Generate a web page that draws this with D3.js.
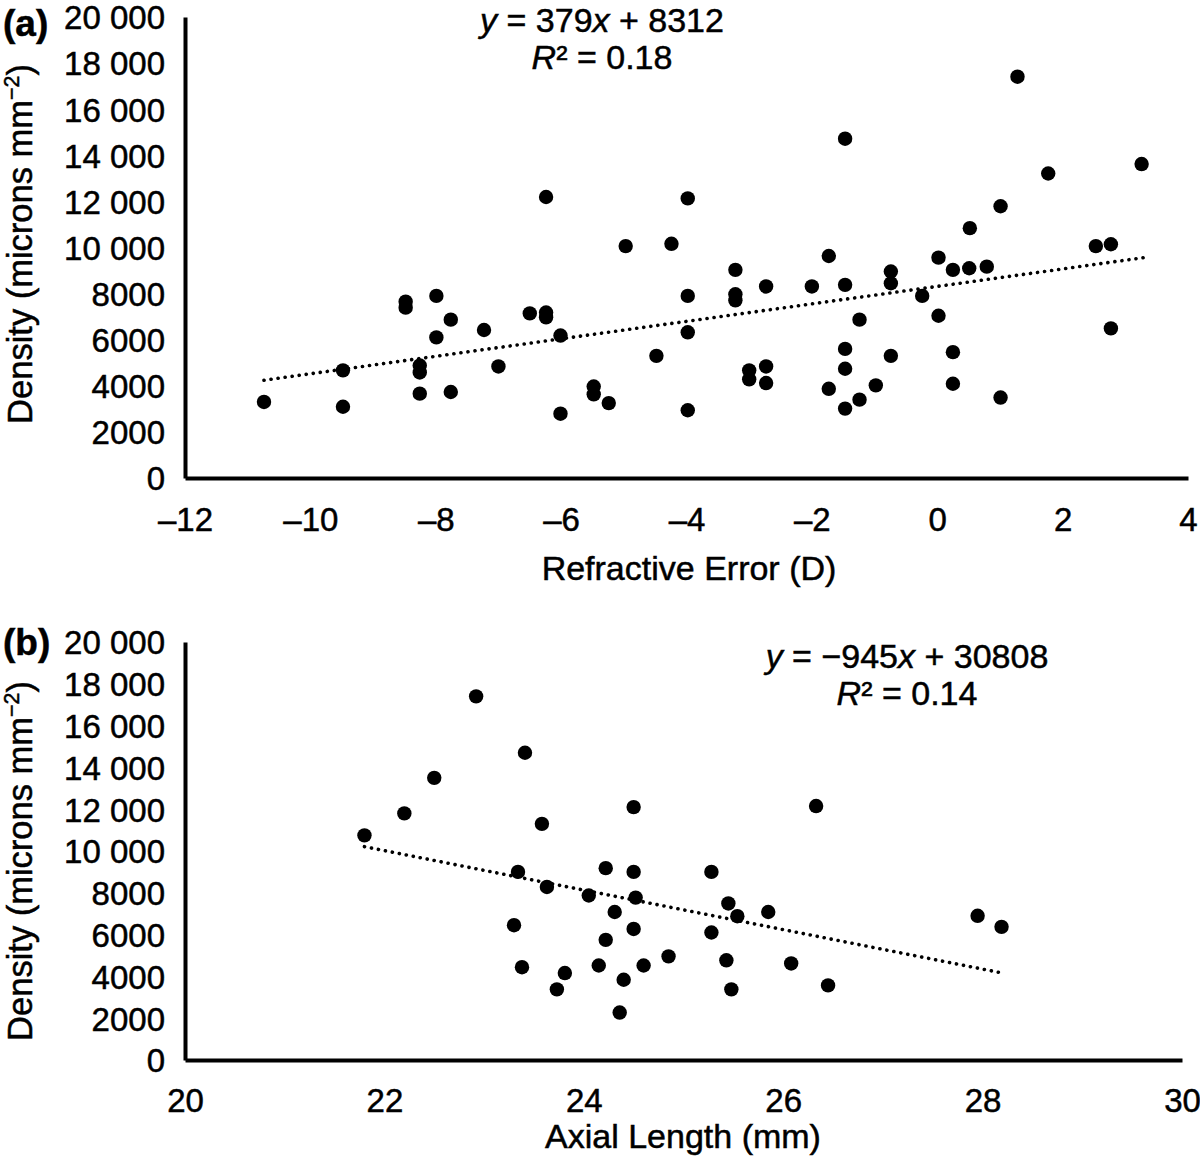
<!DOCTYPE html>
<html>
<head>
<meta charset="utf-8">
<script src="https://cdn.jsdelivr.net/npm/d3@7"></script>
<style>
  html, body { margin: 0; padding: 0; background: #fff; }
  svg { display: block; }
  text { font-family: "Liberation Sans", Arial, sans-serif; fill: #000; stroke: #000; stroke-width: 0.5px; }
</style>
</head>
<body>
<svg id="chart" width="1200" height="1160"></svg>
<script>
// ---------- Data ----------
// Panel (a): refractive error (D) vs density (microns mm^-2)
const refractiveError = [
  -10.74, -9.48, -9.48, -8.48, -8.48, -8.255, -8.255, -8.255, -7.99, -7.99,
  -7.76, -7.76, -7.23, -7.0, -6.5, -6.24, -6.24, -6.24, -6.01, -6.01,
  -5.48, -5.48, -5.24, -4.97, -4.48, -4.24, -3.98, -3.98, -3.98, -3.98,
  -3.22, -3.22, -3.22, -3.0, -3.0, -2.73, -2.73, -2.73, -2.0, -1.73,
  -1.73, -1.47, -1.47, -1.47, -1.47, -1.47, -1.24, -1.24, -0.98, -0.74,
  -0.74, -0.74, -0.24, 0.02, 0.02, 0.25, 0.25, 0.25, 0.52, 0.51,
  0.79, 1.01, 1.01, 1.28, 1.77, 2.53, 2.77, 2.77, 3.26
];
const densityA = [
  3300, 3090, 4670, 7650, 7390, 4880, 4580, 3660, 7900, 6100,
  6870, 3730, 6420, 4840, 7140, 7180, 6970, 12190, 6180, 2790,
  3970, 3630, 3250, 10060, 5300, 10160, 12130, 7900, 6320, 2940,
  9030, 7970, 7710, 4670, 4280, 8310, 4840, 4120, 8310, 9630,
  3870, 8380, 5600, 4740, 3010, 14720, 6870, 3400, 4020, 8960,
  8450, 5300, 7900, 9560, 7040, 9030, 5460, 4090, 10840, 9100,
  9170, 11790, 3490, 17410, 13210, 10060, 10140, 6490, 13620
];
// Panel (b): axial length (mm) vs density
const axialLength = [
  21.8, 22.2, 22.5, 22.92, 23.41, 23.58, 23.34, 23.63, 23.3, 23.38,
  23.73, 23.81, 24.05, 24.22, 24.31, 24.22, 24.15, 24.36, 24.4, 24.5,
  24.5, 24.52, 24.5, 24.6, 24.85, 25.28, 25.28, 25.45, 25.43, 25.54,
  25.48, 25.85, 26.08, 26.33, 26.45, 27.95, 28.19
];
const densityB = [
  10750, 11800, 13500, 17400, 14700, 11300, 9000, 8280, 6450, 4440,
  3380, 4160, 7870, 9180, 7080, 5750, 4520, 2270, 3840, 9000,
  12100, 7770, 6270, 4520, 4960, 9000, 6100, 7490, 4770, 6880,
  3380, 7080, 4620, 12150, 3570, 6900, 6370
];
// Trend lines (from the chart's equations)
const trendA = { slope: 379, intercept: 8312, from: -10.74, to: 3.3 };
const trendB = { slope: -945, intercept: 30808, from: 21.8, to: 28.2 };

// Tick values and labels
const yTicks = [0, 2000, 4000, 6000, 8000, 10000, 12000, 14000, 16000, 18000, 20000];
const yTickLabels = ["0", "2000", "4000", "6000", "8000", "10 000", "12 000", "14 000", "16 000", "18 000", "20 000"];
const xTicksA = [-12, -10, -8, -6, -4, -2, 0, 2, 4];
const xTickLabelsA = ["\u201312", "\u201310", "\u20138", "\u20136", "\u20134", "\u20132", "0", "2", "4"];
const xTicksB = [20, 22, 24, 26, 28, 30];
const xTickLabelsB = ["20", "22", "24", "26", "28", "30"];

// ---------- Drawing ----------
const svg = d3.select("#chart");
const FS = 33;

function panel(cfg) {
  const g = svg.append("g");
  const x = d3.scaleLinear().domain(cfg.xDomain).range(cfg.xRange);
  const y = d3.scaleLinear().domain([0, 20000]).range(cfg.yRange);

  // axes (no tick marks)
  const xAxis = d3.axisBottom(x).tickValues(cfg.xTicks)
    .tickFormat((d, i) => cfg.xTickLabels[i]).tickSize(0).tickPadding(0);
  const yAxis = d3.axisLeft(y).tickValues(yTicks)
    .tickFormat((d, i) => yTickLabels[i]).tickSize(0).tickPadding(0);

  const gx = g.append("g").attr("transform", `translate(0,${cfg.yRange[0]})`).call(xAxis);
  gx.select(".domain").attr("stroke", "#000").attr("stroke-width", 4);
  gx.selectAll("text").attr("font-size", FS).attr("font-family", "Liberation Sans, Arial, sans-serif")
    .attr("fill", "#000").attr("dy", null).attr("y", cfg.xTickDy);

  const gy = g.append("g").attr("transform", `translate(${cfg.xRange[0]},0)`).call(yAxis);
  gy.select(".domain").attr("stroke", "#000").attr("stroke-width", 4);
  gy.selectAll("text").attr("font-size", FS).attr("font-family", "Liberation Sans, Arial, sans-serif")
    .attr("fill", "#000").attr("x", -20).attr("dy", "0.36em");

  // trend line (dotted)
  const t = cfg.trend;
  const line = d3.line().x(d => x(d)).y(d => y(t.slope * d + t.intercept));
  g.append("path")
    .attr("d", line([t.from, t.to]))
    .attr("fill", "none").attr("stroke", "#000").attr("stroke-width", 3.6)
    .attr("stroke-linecap", "round").attr("stroke-dasharray", "0.1 7");

  // points
  g.append("g").selectAll("circle")
    .data(cfg.xs.map((v, i) => [v, cfg.ys[i]]))
    .join("circle")
    .attr("cx", d => x(d[0])).attr("cy", d => y(d[1])).attr("r", 7.2)
    .attr("fill", "#000");

  // x-axis title
  g.append("text").attr("x", cfg.xTitlePos[0]).attr("y", cfg.xTitlePos[1])
    .attr("text-anchor", "middle").attr("font-size", 34).text(cfg.xTitle);

  // y-axis title
  const YF = 34.5;
  const yt = g.append("text")
    .attr("transform", `translate(${cfg.yTitlePos[0]},${cfg.yTitlePos[1]}) rotate(-90)`)
    .attr("text-anchor", "middle").attr("font-size", YF);
  yt.append("tspan").text("Density (microns mm");
  yt.append("tspan").attr("font-size", YF * 0.62).attr("dy", -13).text("\u22122");
  yt.append("tspan").attr("dy", 13).text(")");

  // panel letter
  g.append("text").attr("x", 3).attr("y", cfg.letterY)
    .attr("font-size", 37).attr("font-weight", "bold").text(cfg.letter);

  // equation
  const e1 = g.append("text").attr("x", cfg.eqPos[0]).attr("y", cfg.eqPos[1])
    .attr("text-anchor", "middle").attr("font-size", 34);
  e1.append("tspan").attr("font-style", "italic").text("y");
  e1.append("tspan").text(cfg.eqMid);
  e1.append("tspan").attr("font-style", "italic").text("x");
  e1.append("tspan").text(cfg.eqEnd);
  const e2 = g.append("text").attr("x", cfg.eqPos[0]).attr("y", cfg.eqPos[1] + 37)
    .attr("text-anchor", "middle").attr("font-size", 34);
  e2.append("tspan").attr("font-style", "italic").text("R");
  e2.append("tspan").text(cfg.r2);
}

panel({
  xDomain: [-12, 4], xRange: [185, 1188], yRange: [478, 17],
  xTicks: xTicksA, xTickLabels: xTickLabelsA, xTickDy: 53,
  xs: refractiveError, ys: densityA, trend: trendA,
  xTitle: "Refractive Error (D)", xTitlePos: [689, 580],
  yTitlePos: [32, 244], letter: "(a)", letterY: 36,
  eqPos: [602, 32], eqMid: " = 379", eqEnd: " + 8312", r2: "\u00b2 = 0.18"
});

panel({
  xDomain: [20, 30], xRange: [185, 1182], yRange: [1060, 642],
  xTicks: xTicksB, xTickLabels: xTickLabelsB, xTickDy: 52,
  xs: axialLength, ys: densityB, trend: trendB,
  xTitle: "Axial Length (mm)", xTitlePos: [683, 1148],
  yTitlePos: [32, 861], letter: "(b)", letterY: 655,
  eqPos: [907, 668], eqMid: " = \u2212945", eqEnd: " + 30808", r2: "\u00b2 = 0.14"
});
</script>
</body>
</html>
